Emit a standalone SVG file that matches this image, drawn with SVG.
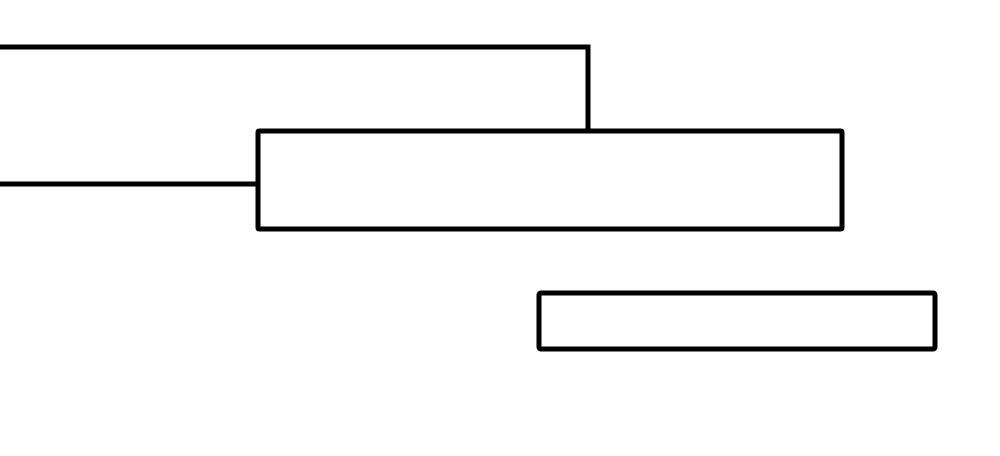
<svg xmlns="http://www.w3.org/2000/svg" width="1000" height="456" viewBox="0 0 1000 456">
<style>
.node{fill:#ffffff;stroke:#000000;stroke-width:5}
.edge{fill:none;stroke:#000000;stroke-width:5}
</style>
<rect width="1000" height="456" fill="#ffffff"/>
<g id="connectors">
<path class="edge" d="M0,47 H588 V131"/>
<path class="edge" d="M0,184 H258"/>
</g>
<g id="node1">
<rect class="node" x="258" y="131" width="584" height="98" rx="1.5"/>
</g>
<g id="node2">
<rect class="node" x="539" y="293" width="396" height="56" rx="2"/>
</g>
</svg>
